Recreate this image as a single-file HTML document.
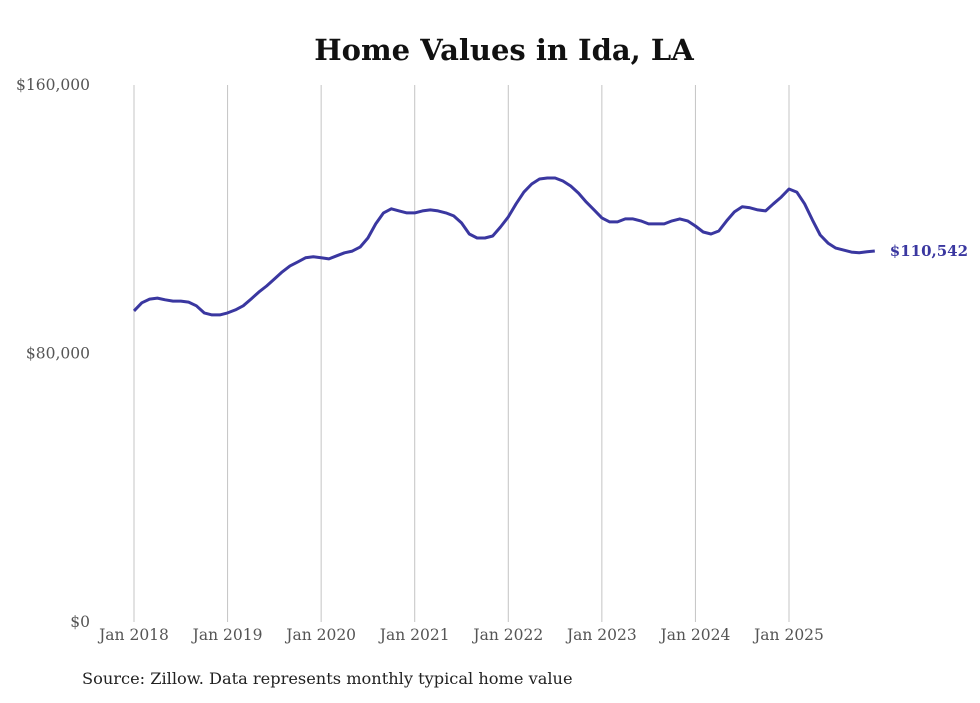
<!DOCTYPE html>
<html><head><meta charset="utf-8"><style>
body{margin:0;background:#fff;width:980px;height:699px;overflow:hidden;font-family:"DejaVu Serif","Liberation Serif",serif}
</style></head><body>
<svg width="980" height="699">
<text x="504" y="60" text-anchor="middle" font-size="29" font-weight="bold" fill="#111">Home Values in Ida, LA</text>
<g id="grid"></g><g id="yax"></g><g id="xax"></g>
<path id="line" fill="none" stroke="#3a37a0" stroke-width="3" stroke-linejoin="round"/>
<text id="endlbl" font-size="15" font-weight="bold" fill="#3a37a0"></text>
<text x="82" y="684" font-size="16.2" fill="#222">Source: Zillow. Data represents monthly typical home value</text>
</svg>
<script>
const yTicks=[0,80000,160000];
const yTickLabels=["$0","$80,000","$160,000"];
const xYears=[2018,2019,2020,2021,2022,2023,2024,2025];
const values=[92.7,95.1,96.2,96.5,96,95.6,95.6,95.3,94.2,92.1,91.5,91.5,
92.1,93,94.2,96.2,98.3,100.1,102.2,104.3,106.1,107.3,108.5,108.8,
108.5,108.2,109.1,110,110.5,111.7,114.4,118.6,121.9,123.1,122.5,121.9,
121.9,122.5,122.8,122.5,121.9,121,118.9,115.6,114.4,114.4,115,117.7,
120.7,124.6,128.1,130.5,132,132.3,132.3,131.4,129.9,127.8,125.1,122.8,
120.4,119.2,119.2,120.1,120.1,119.5,118.6,118.6,118.6,119.5,120.1,119.5,
118,116.2,115.6,116.5,119.5,122.2,123.7,123.4,122.8,122.5,124.6,126.6,
129,128.1,124.6,119.8,115.3,112.9,111.4,110.8,110.2,110.0,110.3,110.542];
const NS="http://www.w3.org/2000/svg";
const y=v=>622-v/160000*537;
const x=m=>134+m*(655/84);
function el(t,a,p){const e=document.createElementNS(NS,t);for(const k in a)e.setAttribute(k,a[k]);document.getElementById(p).appendChild(e);return e;}
yTicks.forEach((t,i)=>{const e=el('text',{x:90,y:y(t)+5,'text-anchor':'end','font-size':15.5,fill:'#555'},'yax');e.textContent=yTickLabels[i];

});
xYears.forEach((yr,i)=>{const xx=x(i*12);
const g=el('line',{x1:xx,x2:xx,y1:85,y2:622,stroke:'#c4c4c4','stroke-width':1},'grid');


const e=el('text',{x:xx,y:640,'text-anchor':'middle','font-size':15.5,fill:'#555'},'xax');e.textContent='Jan '+yr;

});
document.getElementById('line').setAttribute('d',values.map((v,i)=>(i?'L':'M')+x(i).toFixed(1)+','+y(v*1000).toFixed(1)).join(''));
const last=values[values.length-1]*1000,lb=document.getElementById('endlbl');
lb.setAttribute('x',x(values.length-1)+15);lb.setAttribute('y',y(last)+5);
lb.textContent='$'+Math.round(last).toLocaleString('en-US');
</script>
</body></html>
